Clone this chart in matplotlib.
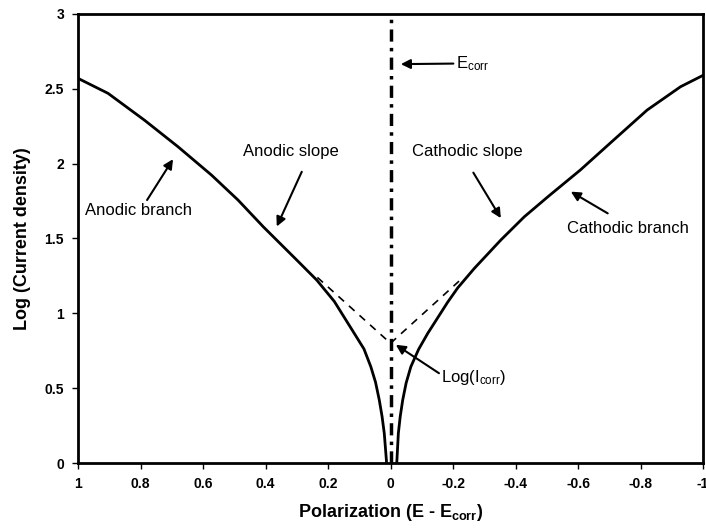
import matplotlib
matplotlib.use("Agg")
import matplotlib.pyplot as plt

# values
anodic_x = [1.0, 0.904, 0.787, 0.68, 0.573, 0.488, 0.407, 0.30, 0.236, 0.18,
            0.116, 0.085, 0.063, 0.048, 0.036, 0.027, 0.020, 0.0125]
anodic_y = [2.57, 2.47, 2.29, 2.113, 1.924, 1.757, 1.578, 1.356, 1.222, 1.08,
            0.866, 0.762, 0.643, 0.54, 0.421, 0.31, 0.198, 0.0]

cathodic_x = [-0.020, -0.025, -0.031, -0.039, -0.050, -0.065, -0.09, -0.119,
              -0.183, -0.215, -0.268, -0.353, -0.428, -0.507, -0.607, -0.714,
              -0.821, -0.928, -1.0]
cathodic_y = [0.0, 0.198, 0.31, 0.421, 0.535, 0.643, 0.76, 0.866,
              1.075, 1.17, 1.30, 1.49, 1.645, 1.785, 1.957, 2.158,
              2.358, 2.514, 2.59]

tafel_anodic_x = [0.234, 0.0]
tafel_anodic_y = [1.24, 0.80]
tafel_cathodic_x = [0.0, -0.235]
tafel_cathodic_y = [0.80, 1.245]

ecorr_x = [0.0, 0.0]
ecorr_y = [0.0, 3.0]

x_ticks = [1, 0.8, 0.6, 0.4, 0.2, 0, -0.2, -0.4, -0.6, -0.8, -1]
x_tick_labels = ['1', '0.8', '0.6', '0.4', '0.2', '0', '-0.2', '-0.4', '-0.6', '-0.8', '-1']
y_ticks = [0, 0.5, 1, 1.5, 2, 2.5, 3]
y_tick_labels = ['0', '0.5', '1', '1.5', '2', '2.5', '3']


def main():
    plt.rcParams['font.family'] = ['Liberation Sans', 'DejaVu Sans']
    plt.rcParams['mathtext.fontset'] = 'custom'
    plt.rcParams['mathtext.rm'] = 'Liberation Sans'
    plt.rcParams['mathtext.bf'] = 'Liberation Sans:bold'
    plt.rcParams['mathtext.default'] = 'regular'

    fig = plt.figure(figsize=(7.06, 5.28), dpi=100)
    ax = fig.add_axes([0.1105, 0.1231, 0.8853, 0.8504])

    ax.plot(anodic_x, anodic_y, color='black', linewidth=2)
    ax.plot(cathodic_x, cathodic_y, color='black', linewidth=2)
    ax.plot(tafel_anodic_x, tafel_anodic_y, color='black', linewidth=1.2,
            linestyle=(0, (4.5, 4)))
    ax.plot(tafel_cathodic_x, tafel_cathodic_y, color='black', linewidth=1.2,
            linestyle=(0, (4.5, 4)))
    ax.plot(ecorr_x, ecorr_y, color='black', linewidth=2.5,
            linestyle=(0, (3.5, 1.8, 1, 1.8)))

    ax.set_xlim(1, -1)
    ax.set_ylim(0, 3)
    ax.set_xticks(x_ticks)
    ax.set_xticklabels(x_tick_labels)
    ax.set_yticks(y_ticks)
    ax.set_yticklabels(y_tick_labels)
    ax.tick_params(axis='both', direction='out', length=4, width=1,
                   labelsize=10, pad=6)
    for lab in ax.get_xticklabels() + ax.get_yticklabels():
        lab.set_fontweight('bold')
    for sp in ax.spines.values():
        sp.set_linewidth(2)

    ax.set_xlabel('Polarization (E - E$_{corr}$)', fontsize=13,
                  fontweight='bold', labelpad=8)
    ax.set_ylabel('Log (Current density)', fontsize=13,
                  fontweight='bold', labelpad=10)

    arrow = dict(arrowstyle='-|>', color='black', linewidth=1.5,
                 mutation_scale=14, shrinkA=0, shrinkB=0)
    fs = 12
    ax.annotate('E$_{corr}$', xy=(-0.033, 2.665), xytext=(-0.21, 2.67),
                fontsize=fs, ha='left', va='center', arrowprops=arrow)
    ax.annotate('Cathodic slope', xy=(-0.353, 1.636), xytext=(-0.245, 2.08),
                fontsize=fs, ha='center', va='center')
    ax.annotate('', xy=(-0.353, 1.636), xytext=(-0.265, 1.94),
                arrowprops=arrow)
    ax.annotate('Anodic slope', xy=(0.364, 1.58), xytext=(0.318, 2.08),
                fontsize=fs, ha='center', va='center')
    ax.annotate('', xy=(0.364, 1.58), xytext=(0.284, 1.946), arrowprops=arrow)
    ax.annotate('Anodic branch', xy=(0.696, 2.03), xytext=(0.808, 1.69),
                fontsize=fs, ha='center', va='center')
    ax.annotate('', xy=(0.696, 2.03), xytext=(0.779, 1.757), arrowprops=arrow)
    ax.annotate('Cathodic branch', xy=(-0.577, 1.813), xytext=(-0.759, 1.57),
                fontsize=fs, ha='center', va='center')
    ax.annotate('', xy=(-0.577, 1.813), xytext=(-0.695, 1.668),
                arrowprops=arrow)
    ax.annotate('Log(I$_{corr}$)', xy=(-0.017, 0.79), xytext=(-0.161, 0.57),
                fontsize=fs, ha='left', va='center')
    ax.annotate('', xy=(-0.017, 0.79), xytext=(-0.155, 0.60), arrowprops=arrow)

    fig.savefig('out.png', dpi=100)
    plt.close(fig)


if __name__ == '__main__':
    main()
